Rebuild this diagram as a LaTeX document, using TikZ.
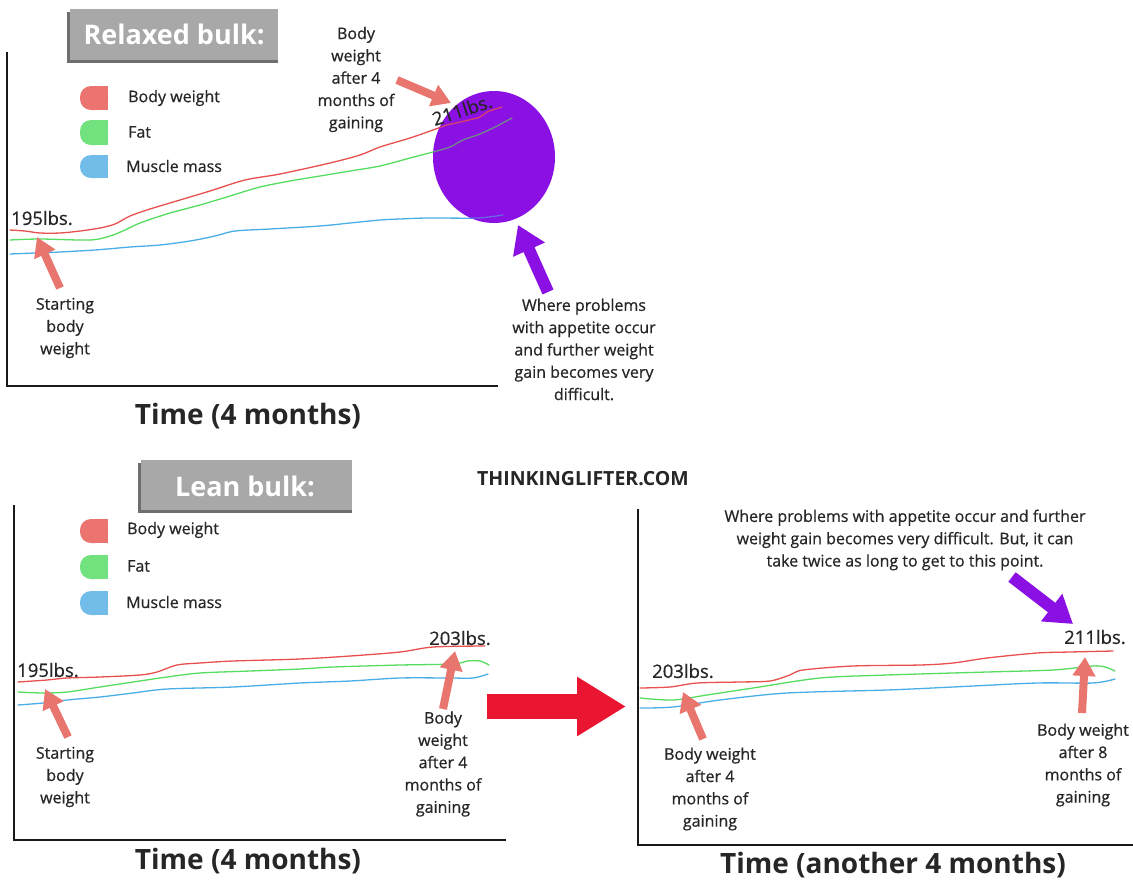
\documentclass[tikz,border=0pt]{standalone}
\usepackage{fontspec}
\setmainfont{Open Sans}
\newfontfamily\medf{Open Sans}[FakeBold=0.6]
\usetikzlibrary{arrows.meta,shapes.geometric}
\definecolor{txt}{HTML}{262626}
\definecolor{bw}{HTML}{E8504E}
\definecolor{ft}{HTML}{55DD60}
\definecolor{mm}{HTML}{4AAEE6}
\definecolor{swr}{HTML}{EB7470}
\definecolor{swg}{HTML}{72E27E}
\definecolor{swb}{HTML}{72BCEA}
\definecolor{salmon}{HTML}{E8756E}
\definecolor{vio}{HTML}{8A10E4}
\definecolor{bigred}{HTML}{EA1530}
\definecolor{boxg}{HTML}{A8A8A8}
\definecolor{boxd}{HTML}{6E6E6E}
\begin{document}
\begin{tikzpicture}[x=1pt,y=-1pt,
  lbl/.style={text=txt,font=\medf\fontsize{16}{22.3}\selectfont,align=center,inner sep=0pt},
  wtl/.style={text=txt,font=\medf\fontsize{18.5}{22}\selectfont,inner sep=0pt},
  ttl/.style={text=txt,font=\bfseries\fontsize{28}{30}\selectfont,inner sep=0pt},
  hdr/.style={text=white,font=\bfseries\fontsize{27}{30}\selectfont,inner sep=0pt},
  brand/.style={text=txt,font=\bfseries\fontsize{19.5}{22}\selectfont,inner sep=0pt},
  axis/.style={line width=2.6pt,black!90},
  curve/.style={line width=1.3pt,line join=round,line cap=round},
  sarrow/.style={salmon,line width=8pt,-{Triangle[length=19pt,width=22pt]}},
  varrow/.style={vio,line width=12pt,-{Triangle[length=27pt,width=33pt]}},
  bigarrow/.style={bigred,line width=25pt,-{Triangle[length=49pt,width=56pt]}},
]
\useasboundingbox[fill=white] (0,0) rectangle (1133,879);

% ================= TOP PANEL =================
\fill[boxd] (67,12) rectangle (278,63);
\fill[boxg] (70,9) rectangle (278,60);
\node[hdr] (h1) at (174,34) {Relaxed bulk:};

\draw[axis] (7,52) -- (7,386) -- (498,386);

% legend
\fill[swr,rounded corners=11pt] (80,86) rectangle (108,110);
\fill[swr] (95,86) rectangle (108,110);
\fill[swg,rounded corners=11pt] (80,120) rectangle (108,145);
\fill[swg] (95,120) rectangle (108,145);
\fill[swb,rounded corners=11pt] (80,155) rectangle (108,178);
\fill[swb] (95,155) rectangle (108,178);
\node[lbl,anchor=west] (l1a) at (128,98) {Body weight};
\node[lbl,anchor=west] (l1b) at (128,132) {Fat};
\node[lbl,anchor=west] (l1c) at (126,166) {Muscle mass};

% curves
\def\redA{(10,230) (25,231) (40,233) (60,233) (80,231) (100,228) (115,224) (130,216) (150,209) (180,200) (210,191) (245,180) (280,174) (330,163) (360,155) (380,147) (410,138) (433,130) (447,125) (465,121) (480,117) (487,112) (502,107)}
\def\greenA{(10,240) (40,239) (90,240) (110,236) (125,230) (140,223) (170,213) (200,205) (230,196) (260,187) (290,181) (320,176) (350,171) (380,166) (410,158) (433,152) (450,147) (463,140) (480,134) (495,127) (512,118)}
\def\blueA{(10,254) (35,253) (60,252) (95,250) (130,247) (160,245) (190,241) (215,236) (235,231) (270,229) (320,226) (350,223) (380,220) (400,219) (427,218) (477,218) (503,215)}
\draw[curve,bw] plot[smooth,tension=0.5] coordinates {\redA};
\draw[curve,ft] plot[smooth,tension=0.5] coordinates {\greenA};
\draw[curve,mm] plot[smooth,tension=0.5] coordinates {\blueA};

\fill[vio] (494,157) ellipse [x radius=61, y radius=66];
\begin{scope}
\clip (494,157) ellipse [x radius=61, y radius=66];
\draw[curve,bw!80!vio] plot[smooth,tension=0.5] coordinates {\redA};
\draw[curve,ft!45!gray!80!vio] plot[smooth,tension=0.5] coordinates {\greenA};
\draw[curve,mm!55!vio] plot[smooth,tension=0.5] coordinates {\blueA};
\end{scope}
\node[wtl,rotate=18] (w211a) at (462,110) {211lbs.};
\node[wtl,anchor=west] (w195a) at (11,218) {195lbs.};

\node[lbl] (bw1) at (356,79.5) {Body\\weight\\after 4\\months of\\gaining};
\coordinate (bw1tail) at (397,80);
\coordinate (bw1tip) at (451,103);
\draw[sarrow] (bw1tail) -- (bw1tip);

\node[lbl] (st1) at (65,328) {Starting\\body\\weight};
\coordinate (st1tail) at (60,288);
\coordinate (st1tip) at (37,237);
\draw[sarrow] (st1tail) -- (st1tip);

\node[lbl] (ap1) at (584,349.5) {Where problems\\with appetite occur\\and further weight\\gain becomes very\\difficult.};
\coordinate (ap1tail) at (548,292);
\coordinate (ap1tip) at (518,225);
\draw[varrow] (ap1tail) -- (ap1tip);

\node[ttl] (t1) at (248,416) {Time (4 months)};

% ================= BOTTOM LEFT =================
\fill[boxd] (138,463) rectangle (352,513);
\fill[boxg] (141,460) rectangle (352,510);
\node[hdr] (h2) at (245,486) {Lean bulk:};

\node[brand] (brand) at (583,479) {THINKINGLIFTER.COM};

\draw[axis] (14,505) -- (14,840) -- (506,840);

\fill[swr,rounded corners=11pt] (80,519) rectangle (108,543);
\fill[swr] (95,519) rectangle (108,543);
\fill[swg,rounded corners=11pt] (80,555) rectangle (108,579);
\fill[swg] (95,555) rectangle (108,579);
\fill[swb,rounded corners=11pt] (80,591) rectangle (108,615);
\fill[swb] (95,591) rectangle (108,615);
\node[lbl,anchor=west] (l2a) at (127,530) {Body weight};
\node[lbl,anchor=west] (l2b) at (127,566) {Fat};
\node[lbl,anchor=west] (l2c) at (126,602) {Muscle mass};

\draw[curve,bw] plot[smooth,tension=0.5] coordinates {(18,682) (47,680) (67,678) (100,677) (140,675) (157,672) (177,665) (200,663) (233,661) (300,659) (350,656) (400,652) (433,647) (485,646)};
\draw[curve,ft] plot[smooth,tension=0.5] coordinates {(18,692) (43,693) (67,692) (100,687) (133,682) (167,677) (200,673) (250,671) (300,669) (333,667) (400,665) (453,664) (467,661) (480,661) (489,665)};
\draw[curve,mm] plot[smooth,tension=0.5] coordinates {(18,705) (43,703) (67,700) (100,697) (133,693) (167,689) (233,687) (300,683) (350,681) (400,678) (450,678) (473,678) (488,674)};

\node[wtl,anchor=west] (w195b) at (17,670) {195lbs.};
\node[wtl,anchor=west] (w203b) at (429,638) {203lbs.};

\node[lbl] (st2) at (65,777) {Starting\\body\\weight};
\coordinate (st2tail) at (68,737);
\coordinate (st2tip) at (45,689);
\draw[sarrow] (st2tail) -- (st2tip);

\node[lbl] (bw2) at (443,764) {Body\\weight\\after 4\\months of\\gaining};
\coordinate (bw2tail) at (443,709);
\coordinate (bw2tip) at (455,651);
\draw[sarrow] (bw2tail) -- (bw2tip);

\node[ttl] (t2) at (248,861) {Time (4 months)};

% big arrow between panels
\coordinate (bigtail) at (487,706.5);
\coordinate (bigtip) at (626,706.5);
\draw[bigarrow] (bigtail) -- (bigtip);

% ================= BOTTOM RIGHT =================
\draw[axis] (638,509) -- (638,845) -- (1135,845);

\draw[curve,bw] plot[smooth,tension=0.5] coordinates {(640,688) (670,687) (697,683) (740,682) (770,681) (790,675) (803,670) (853,666) (920,665) (953,663) (987,658) (1037,653) (1070,652) (1113,651)};
\draw[curve,ft] plot[smooth,tension=0.5] coordinates {(640,698) (673,700) (707,695) (753,688) (820,678) (887,675) (987,672) (1053,670) (1093,666) (1105,667) (1115,671)};
\draw[curve,mm] plot[smooth,tension=0.5] coordinates {(640,708) (673,707) (720,700) (787,693) (887,690) (953,687) (1037,683) (1093,683) (1115,679)};

\node[lbl] (ap2) at (905,540) {Where problems with appetite occur and further\\weight gain becomes very difficult. But, it can\\take twice as long to get to this point.};
\coordinate (ap2tail) at (1012,577);
\coordinate (ap2tip) at (1073,624);
\draw[varrow] (ap2tail) -- (ap2tip);

\node[wtl,anchor=west] (w211c) at (1064,637) {211lbs.};
\node[wtl,anchor=west] (w203c) at (652,671) {203lbs.};

\node[lbl] (bw3) at (710,789) {Body weight\\after 4\\months of\\gaining};
\coordinate (bw3tail) at (703,739);
\coordinate (bw3tip) at (683,692);
\draw[sarrow] (bw3tail) -- (bw3tip);

\node[lbl] (bw4) at (1083,765) {Body weight\\after 8\\months of\\gaining};
\coordinate (bw4tail) at (1082,713);
\coordinate (bw4tip) at (1085,657);
\draw[sarrow] (bw4tail) -- (bw4tip);

\node[ttl] (t3) at (893,865) {Time (another 4 months)};
\end{tikzpicture}
\end{document}
